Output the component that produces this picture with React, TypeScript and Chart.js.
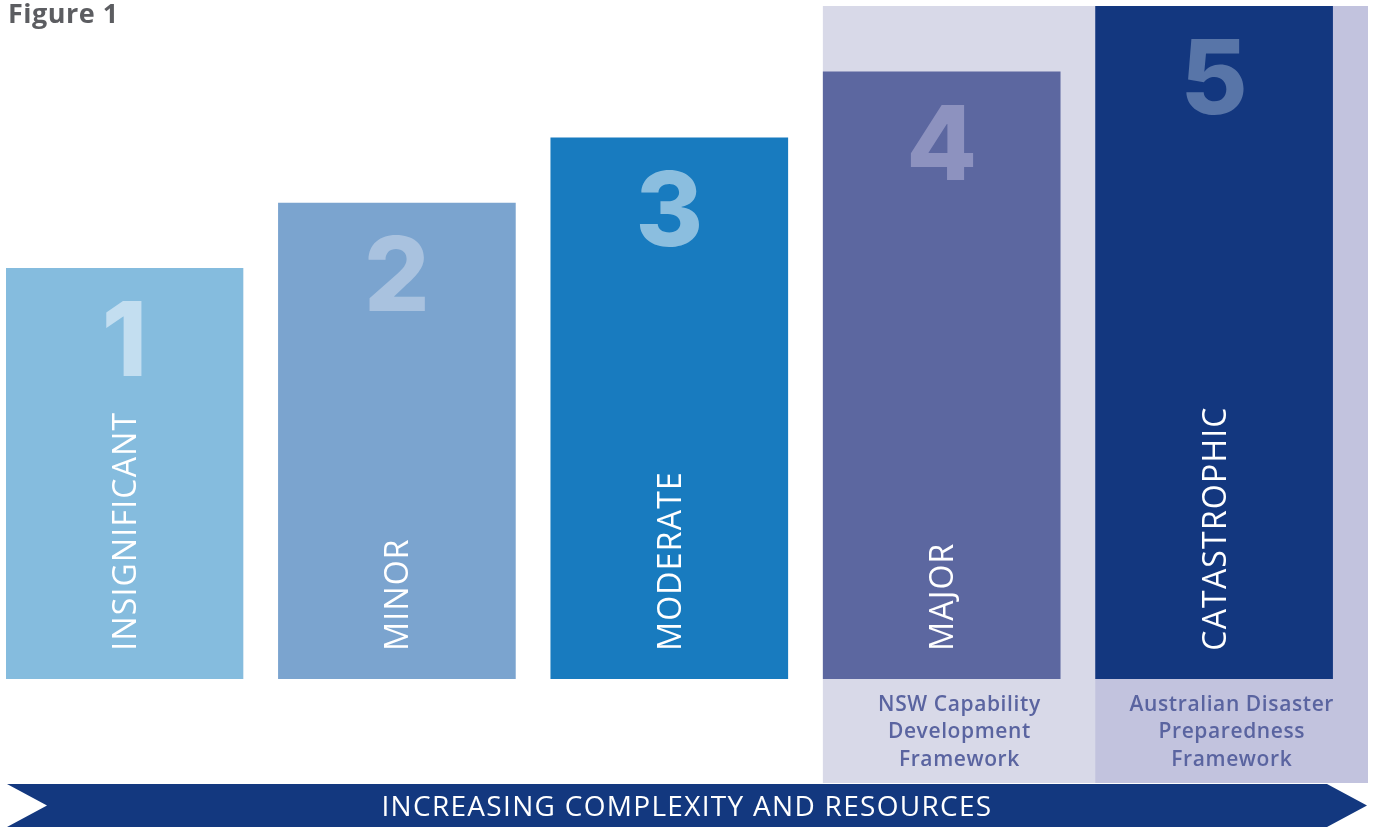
import React, { useEffect, useRef } from "react";
import { Chart, registerables } from "chart.js";

Chart.register(...registerables);

// ---- data ----
const title = "Figure 1";
const levelNumbers = ["1", "2", "3", "4", "5"];
const severityLabels = ["INSIGNIFICANT", "MINOR", "MODERATE", "MAJOR", "CATASTROPHIC"];
const barHeights = [61, 70.7, 80.4, 90.2, 100];
const frameworkLevels = [4, 5];
const frameworkLabels = [
  ["NSW Capability", "Development", "Framework"],
  ["Australian Disaster", "Preparedness", "Framework"],
];
const arrowLabel = "INCREASING COMPLEXITY AND RESOURCES";

// ---- styles ----
const barColors = ["#85bcde", "#7ba4cf", "#187bbf", "#5c67a0", "#13377f"];
const numberColors = ["#c3def0", "#a9c2df", "#8bbedf", "#8d92bf", "#5875a8"];
const frameworkColors = ["#d8d9e8", "#c2c3de"];
const Y_MIN = -15.5;
const Y_MAX = 100;
const BAR_SHIFT = 0.435;

const overlayPlugin = {
  id: "overlay",
  afterDraw(chart: any) {
    const ctx = chart.ctx;
    const area = chart.chartArea;
    const meta = chart.getDatasetMeta(0);
    ctx.save();

    // title
    ctx.fillStyle = "#5c5d61";
    ctx.font = "700 27px 'Open Sans'";
    (ctx as any).letterSpacing = "0.5px";
    ctx.textAlign = "left";
    ctx.textBaseline = "alphabetic";
    ctx.fillText(title, 8, 23);
    (ctx as any).letterSpacing = "0px";

    // numbers and rotated labels
    meta.data.forEach((bar: any, i: number) => {
      ctx.fillStyle = numberColors[i];
      ctx.font = "800 103px Inter";
      (ctx as any).letterSpacing = "0px";
      ctx.textAlign = "center";
      ctx.textBaseline = "alphabetic";
      ctx.fillText(levelNumbers[i], bar.x, bar.y + 108);

      ctx.save();
      ctx.translate(bar.x + 11.5, bar.base - 28);
      ctx.rotate(-Math.PI / 2);
      ctx.fillStyle = "#ffffff";
      ctx.font = "400 32px 'Open Sans'";
      (ctx as any).letterSpacing = "1.2px";
      ctx.textAlign = "left";
      ctx.textBaseline = "alphabetic";
      ctx.fillText(severityLabels[i], 0, 0);
      ctx.restore();
    });

    // framework labels
    const xs = chart.scales.x;
    const ys = chart.scales.y;
    frameworkLevels.forEach((lvl, k) => {
      const cx = xs.getPixelForValue(lvl - 0.5);
      const y0 = ys.getPixelForValue(0);
      ctx.fillStyle = "#5a64a0";
      ctx.font = "600 21px 'Open Sans'";
      (ctx as any).letterSpacing = "0.6px";
      ctx.textAlign = "center";
      ctx.textBaseline = "alphabetic";
      frameworkLabels[k].forEach((line, j) => {
        ctx.fillText(line, cx, y0 + 32 + j * 27.5);
      });
    });

    // arrow
    const left = area.left + 1;
    const right = area.right - 1;
    const top = area.bottom + 1;
    const bottom = top + 43;
    const mid = (top + bottom) / 2;
    ctx.fillStyle = "#13387f";
    ctx.beginPath();
    ctx.moveTo(left, top);
    ctx.lineTo(right - 40, top);
    ctx.lineTo(right, mid);
    ctx.lineTo(right - 40, bottom);
    ctx.lineTo(left, bottom);
    ctx.lineTo(left + 40, mid);
    ctx.closePath();
    ctx.fill();

    ctx.fillStyle = "#ffffff";
    ctx.font = "400 28px 'Open Sans'";
    (ctx as any).letterSpacing = "1.3px";
    ctx.textAlign = "center";
    ctx.textBaseline = "alphabetic";
    ctx.fillText(arrowLabel, (area.left + area.right) / 2, mid + 10);
    ctx.restore();
  },
};

export default function App() {
  const ref = useRef<HTMLCanvasElement | null>(null);

  useEffect(() => {
    if (!ref.current) return;
    const chart = new Chart(ref.current, {
      type: "bar",
      data: {
        datasets: [
          {
            data: barHeights.map((h, i) => ({ x: i + BAR_SHIFT, y: h })) as any,
            backgroundColor: barColors,
            barThickness: 237,
            grouped: false,
            order: 1,
          } as any,
          {
            data: frameworkLevels.map((lvl) => ({ x: lvl - 0.5, y: [Y_MIN, Y_MAX] })) as any,
            backgroundColor: frameworkColors,
            barThickness: 272.4,
            grouped: false,
            order: 2,
          } as any,
        ],
      },
      options: {
        responsive: false,
        animation: false,
        events: [],
        layout: { padding: { left: 6, right: 7, top: 6, bottom: 45 } },
        plugins: { legend: { display: false }, tooltip: { enabled: false } },
        scales: {
          x: { type: "linear", min: 0, max: 5, display: false, offset: false },
          y: { min: Y_MIN, max: Y_MAX, display: false },
        },
      },
      plugins: [overlayPlugin],
    });
    return () => chart.destroy();
  }, []);

  return (
    <div style={{ position: "fixed", left: 0, top: 0, width: 1375, height: 828, background: "#fff" }}>
      <canvas ref={ref} width={1375} height={828} />
    </div>
  );
}
